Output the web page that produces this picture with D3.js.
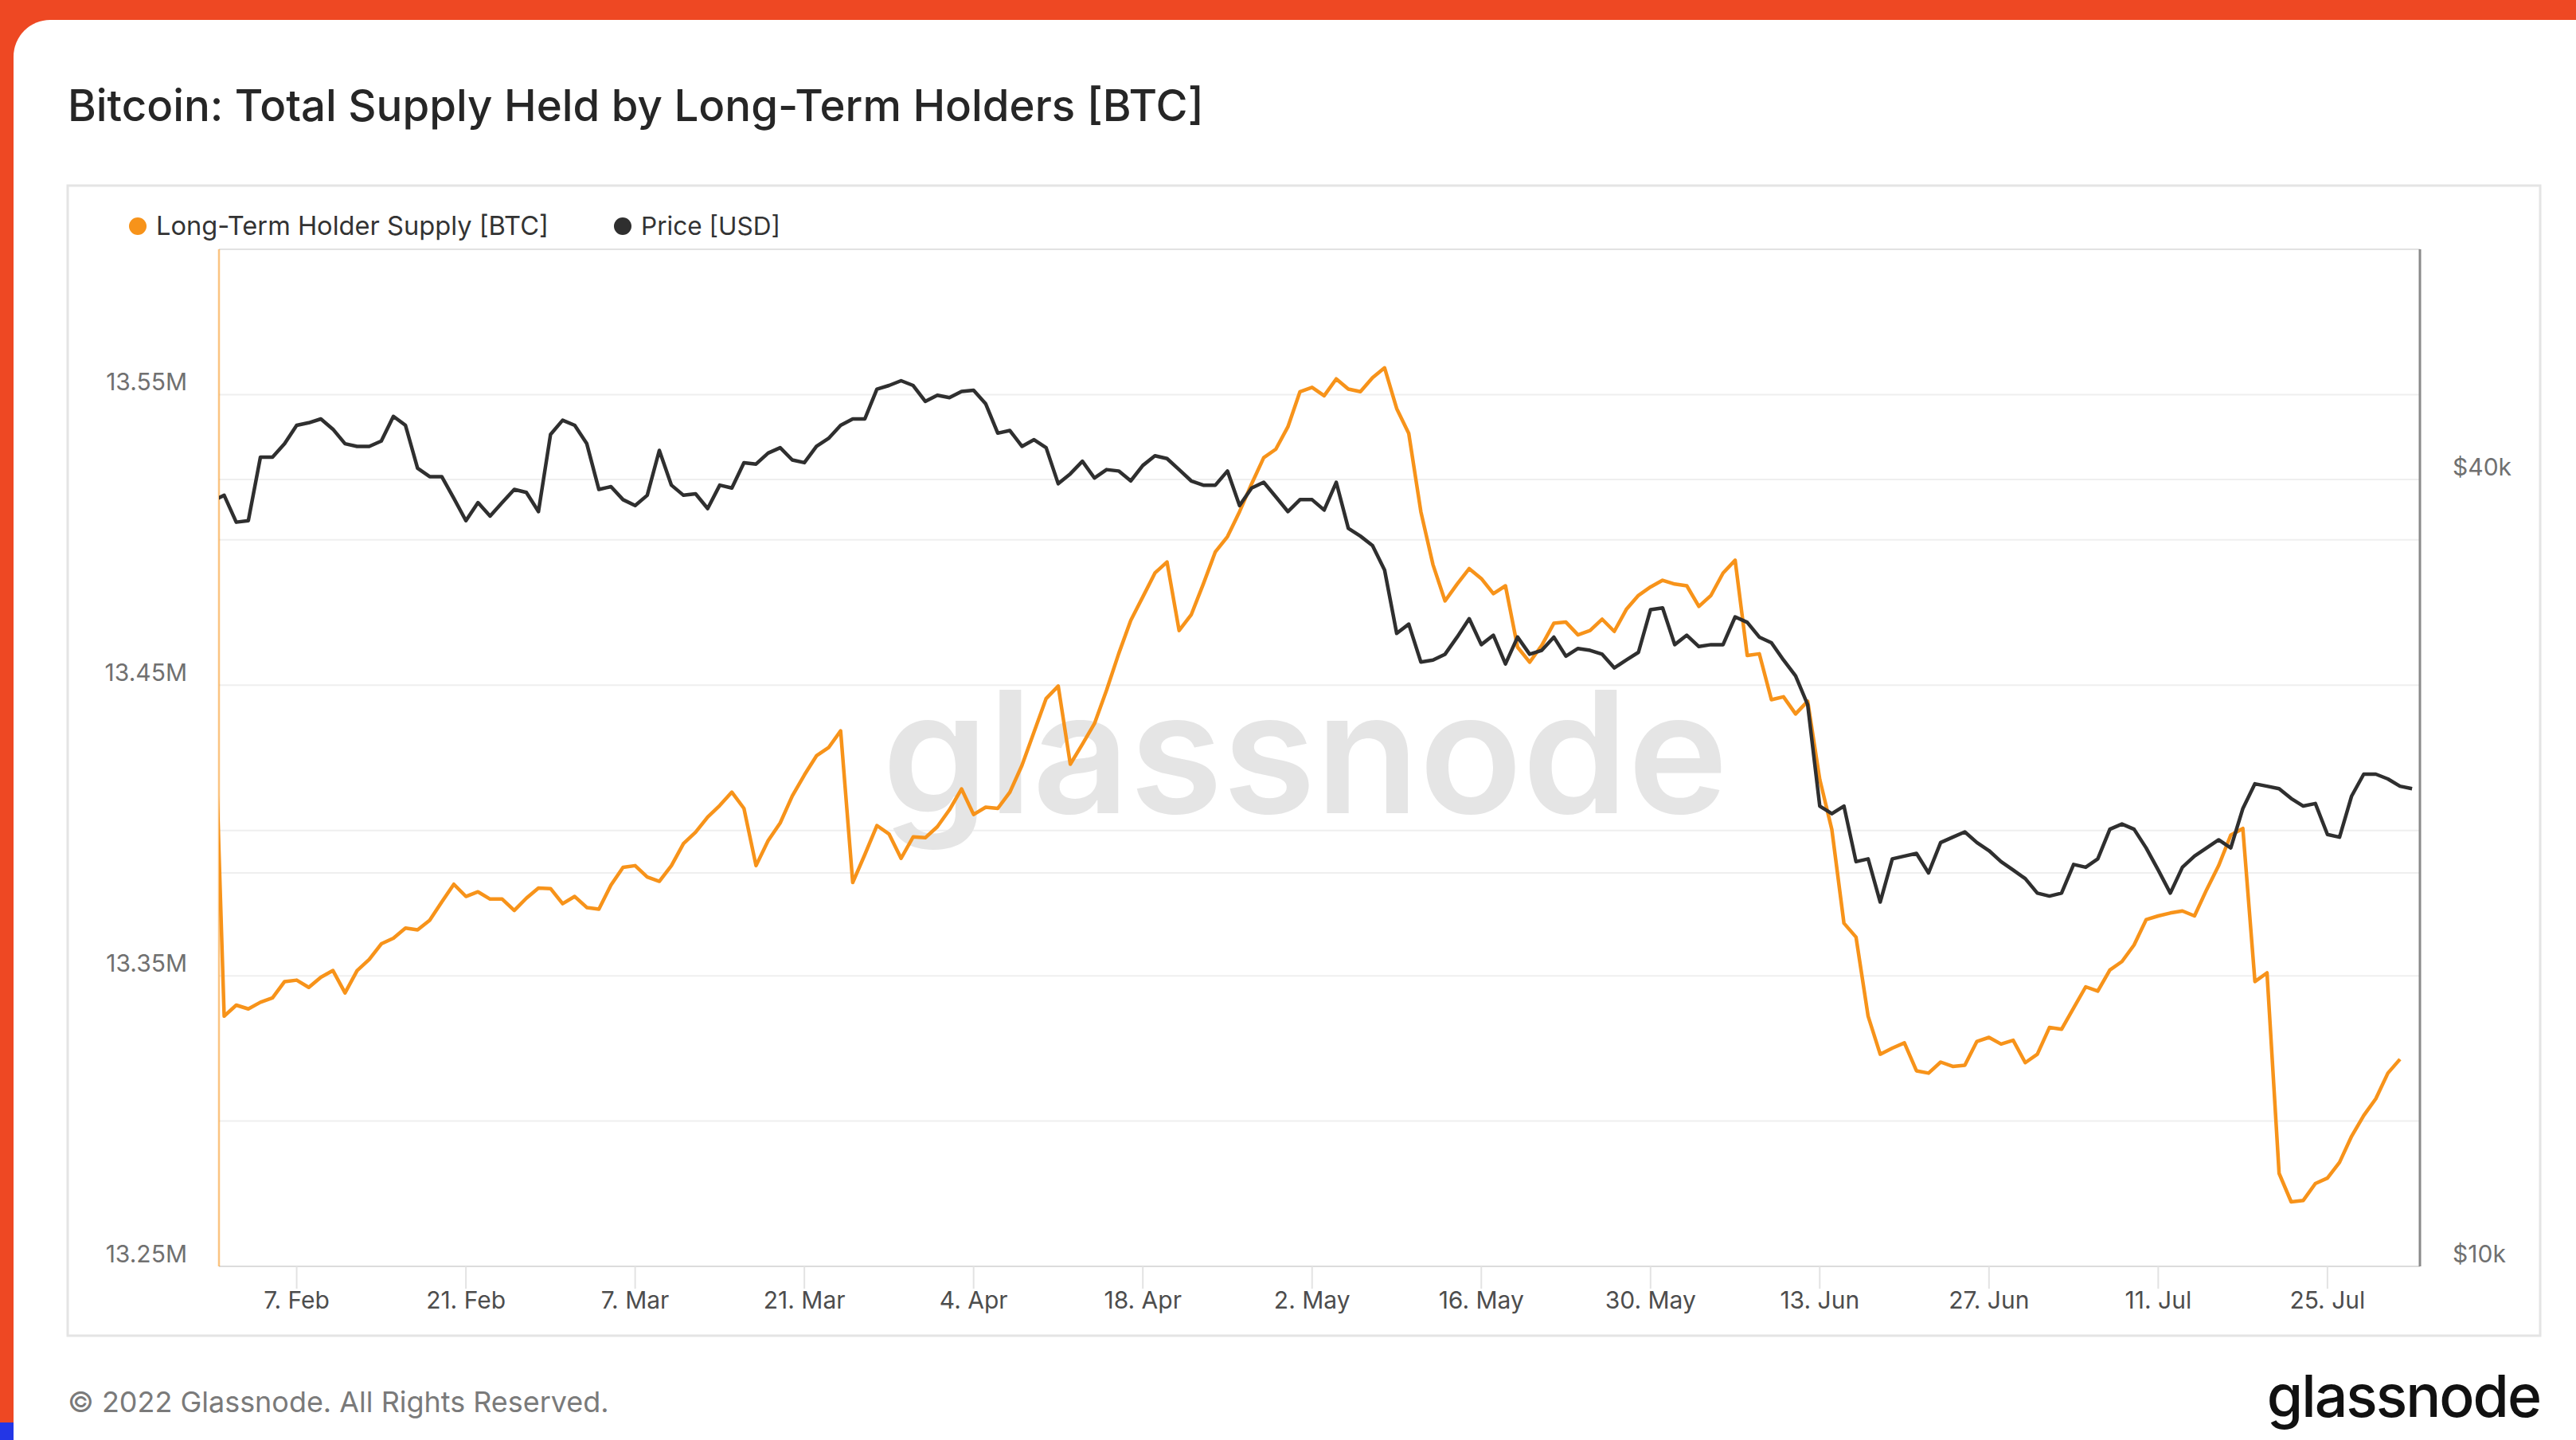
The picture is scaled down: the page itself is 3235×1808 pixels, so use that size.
<!DOCTYPE html>
<html><head><meta charset="utf-8">
<script src="https://cdn.jsdelivr.net/npm/d3@7"></script>
<style>html,body{margin:0;padding:0;background:#EE4823;overflow:hidden}svg{display:block}</style>
</head><body><svg id="c" width="3235" height="1808"></svg>
<script>
// ---------------- data ----------------
const titleText = "Bitcoin: Total Supply Held by Long-Term Holders [BTC]";
const seriesNames = ["Long-Term Holder Supply [BTC]", "Price [USD]"];
const startDate = "2022-01-31"; // first daily point (partly outside the plot)
// Long-Term Holder Supply, millions BTC, daily from 2022-01-31 to 2022-07-31
const supplyM = [13.468,
13.3361,13.3399,13.3386,13.3409,13.3424,13.3480,13.3485,13.3460,13.3495,13.3518,
13.3441,13.3518,13.3556,13.3610,13.3629,13.3664,13.3658,13.3691,13.3754,13.3815,
13.3773,13.3789,13.3764,13.3764,13.3725,13.3767,13.3802,13.3800,13.3748,13.3773,
13.3735,13.3729,13.3812,13.3873,13.3879,13.3840,13.3825,13.3879,13.3955,13.3994,
13.4046,13.4086,13.4132,13.4076,13.3879,13.3965,13.4026,13.4119,13.4191,13.4257,
13.4285,13.4343,13.3821,13.3917,13.4017,13.3988,13.3904,13.3978,13.3975,13.4013,
13.4071,13.4143,13.4055,13.4080,13.4076,13.4132,13.4224,13.4339,13.4454,13.4497,
13.4228,13.4297,13.4368,13.4483,13.4608,13.4723,13.4804,13.4886,13.4924,13.4688,
13.4742,13.4848,13.4959,13.5011,13.5097,13.5193,13.5283,13.5312,13.5389,13.5510,
13.5525,13.5496,13.5554,13.5519,13.5510,13.5558,13.5592,13.5452,13.5366,13.5097,
13.4915,13.4790,13.4848,13.4901,13.4867,13.4815,13.4842,13.4631,13.4579,13.4637,
13.4713,13.4717,13.4673,13.4688,13.4727,13.4685,13.4761,13.4809,13.4838,13.4861,
13.4848,13.4842,13.4771,13.4809,13.4886,13.4930,13.4602,13.4608,13.4450,13.4460,
13.4401,13.4445,13.4176,13.4003,13.3681,13.3633,13.3361,13.3230,13.3251,13.3269,
13.3173,13.3165,13.3203,13.3188,13.3192,13.3274,13.3288,13.3265,13.3278,13.3201,
13.3230,13.3322,13.3316,13.3389,13.3462,13.3447,13.3520,13.3549,13.3606,13.3693,
13.3706,13.3716,13.3723,13.3706,13.3796,13.3879,13.3984,13.4007,13.3480,13.3510,
13.2820,13.2722,13.2727,13.2785,13.2804,13.2858,13.2948,13.3019,13.3077,13.3165,
13.3213];
// Price, thousands USD, daily from 2022-01-31 to 2022-08-01
const priceK = [38.5,
38.9,37.1,37.2,41.6,41.6,42.6,44.0,44.2,44.5,43.7,
42.6,42.4,42.4,42.8,44.7,44.0,40.8,40.2,40.2,38.7,
37.2,38.4,37.5,38.4,39.3,39.1,37.8,43.3,44.4,44.0,
42.6,39.3,39.5,38.6,38.2,38.9,42.1,39.6,38.9,39.0,
38.0,39.6,39.4,41.2,41.1,41.9,42.3,41.4,41.2,42.4,
43.0,44.0,44.5,44.5,46.9,47.2,47.6,47.2,45.9,46.4,
46.2,46.7,46.8,45.7,43.4,43.6,42.4,42.9,42.3,39.7,
40.4,41.3,40.1,40.7,40.6,39.9,41.0,41.7,41.5,40.7,
39.9,39.6,39.6,40.6,38.2,39.4,39.8,38.8,37.8,38.6,
38.6,37.9,39.8,36.7,36.2,35.6,34.1,30.5,31.0,29.0,
29.1,29.4,30.3,31.3,29.9,30.4,28.9,30.3,29.4,29.6,
30.3,29.3,29.7,29.6,29.4,28.7,29.1,29.5,31.8,31.9,
29.9,30.4,29.8,29.9,29.9,31.4,31.1,30.3,30.0,29.1,
28.3,26.9,22.5,22.2,22.5,20.4,20.5,19.0,20.5,20.6,
20.7,20.0,21.1,21.3,21.5,21.1,20.8,20.4,20.1,19.8,
19.3,19.2,19.3,20.3,20.2,20.5,21.6,21.8,21.6,20.9,
20.1,19.3,20.2,20.6,20.9,21.2,20.9,22.4,23.4,23.3,
23.2,22.8,22.5,22.6,21.4,21.3,22.9,23.8,23.8,23.6,
23.3,23.2];
const xTickDates = ["2022-02-07","2022-02-21","2022-03-07","2022-03-21","2022-04-04","2022-04-18","2022-05-02","2022-05-16","2022-05-30","2022-06-13","2022-06-27","2022-07-11","2022-07-25"];
const xDomain = ["2022-01-31T13:43:00Z", "2022-08-01T15:36:00Z"];
const leftDomain = [13.25, 13.60];
const leftLabelTicks = [13.25, 13.35, 13.45, 13.55];
const leftGridTicks = [13.30, 13.35, 13.40, 13.45, 13.50, 13.55, 13.60];
const rightDomain = [10000, 60000];
const rightLabelTicks = [10000, 40000];
const rightGridTicks = [20000, 40000];
const footerText = "\u00A9 2022 Glassnode. All Rights Reserved.";
const logoText = "glassnode";

// ---------------- layout ----------------
const W = 3235, H = 1808;
const P = {l: 275, r: 3039, t: 313, b: 1590};
const FONT = "Inter, 'Open Sans', sans-serif";
const ORANGE = "#F7931A", DARK = "#2f2f2f";

const svg = d3.select("#c");
const parseDay = d3.utcParse("%Y-%m-%d");
const t0 = parseDay(startDate);
const supply = supplyM.map((v, i) => ({date: d3.utcDay.offset(t0, i), v: v * 1e6}));
const price = priceK.map((v, i) => ({date: d3.utcDay.offset(t0, i), v: v * 1e3}));

const x = d3.scaleUtc().domain(xDomain.map(s => new Date(s))).range([P.l, P.r]);
const yL = d3.scaleLinear().domain(leftDomain.map(v => v * 1e6)).range([P.b, P.t]);
const yR = d3.scaleLog().domain(rightDomain).range([P.b, P.t]);

function fit(sel, target) {
  const n = sel.node();
  const w = n.getComputedTextLength();
  const fs = parseFloat(sel.attr("font-size"));
  if (w > 0) sel.attr("font-size", fs * target / w);
  return sel;
}

// background
svg.append("rect").attr("x", 0).attr("y", 0).attr("width", W).attr("height", H).attr("fill", "#EE4823");
svg.append("rect").attr("x", 0).attr("y", 1786).attr("width", W).attr("height", H - 1786).attr("fill", "#2336E6");
svg.append("rect").attr("x", 17).attr("y", 25).attr("width", 3270).attr("height", 1830).attr("rx", 46).attr("fill", "#fff");

// chart box
svg.append("rect").attr("x", 85).attr("y", 233).attr("width", 3105).attr("height", 1444)
  .attr("fill", "#fff").attr("stroke", "#e4e4e4").attr("stroke-width", 3);

// title
const title = svg.append("text").attr("x", 85).attr("y", 152).attr("font-family", FONT)
  .attr("font-size", 52).attr("font-weight", 500).attr("fill", "#262626").text(titleText);
fit(title, 1427);

// legend
const legend = [
  {name: seriesNames[0], color: ORANGE, cx: 173, tx: 196, w: 493},
  {name: seriesNames[1], color: DARK, cx: 782, tx: 805, w: 175}
];
legend.forEach(l => {
  svg.append("circle").attr("cx", l.cx).attr("cy", 284).attr("r", 11).attr("fill", l.color);
  const t = svg.append("text").attr("x", l.tx).attr("y", 295).attr("font-family", FONT)
    .attr("font-size", 32).attr("fill", "#333").text(l.name);
  fit(t, l.w);
});

// gridlines
const grid = svg.append("g");
grid.selectAll("line.gl").data(leftGridTicks).join("line")
  .attr("x1", P.l).attr("x2", P.r).attr("y1", d => yL(d * 1e6)).attr("y2", d => yL(d * 1e6))
  .attr("stroke", d => d === 13.60 ? "#e2e2e2" : "#efefef").attr("stroke-width", 2);
grid.selectAll("line.gr").data(rightGridTicks).join("line")
  .attr("x1", P.l).attr("x2", P.r).attr("y1", d => yR(d)).attr("y2", d => yR(d))
  .attr("stroke", "#efefef").attr("stroke-width", 2);

// watermark
const wm = svg.append("text").attr("x", (1108 + 2170) / 2).attr("y", 1021).attr("text-anchor", "middle")
  .attr("font-family", FONT).attr("font-size", 230).attr("font-weight", 600)
  .attr("fill", "#e5e5e5").text(logoText);
fit(wm, 1062);

// x axis baseline + ticks
svg.append("line").attr("x1", P.l).attr("x2", P.r).attr("y1", P.b).attr("y2", P.b)
  .attr("stroke", "#dcdcdc").attr("stroke-width", 2);
const xt = xTickDates.map(parseDay);
svg.append("g").selectAll("line").data(xt).join("line")
  .attr("x1", d => x(d)).attr("x2", d => x(d)).attr("y1", P.b).attr("y2", P.b + 28)
  .attr("stroke", "#e3e3e3").attr("stroke-width", 2);
const fmt = d3.utcFormat("%-d. %b");
svg.append("g").selectAll("text").data(xt).join("text")
  .attr("x", d => x(d)).attr("y", 1643).attr("text-anchor", "middle")
  .attr("font-family", FONT).attr("font-size", 30).attr("fill", "#4d4d4d").text(d => fmt(d));

// axis lines
svg.append("line").attr("x1", P.l).attr("x2", P.l).attr("y1", P.t).attr("y2", P.b)
  .attr("stroke", ORANGE).attr("stroke-opacity", 0.55).attr("stroke-width", 2.5);
svg.append("line").attr("x1", P.r).attr("x2", P.r).attr("y1", P.t).attr("y2", P.b)
  .attr("stroke", "#8a8a8a").attr("stroke-width", 3);

// y labels
svg.append("g").selectAll("text").data(leftLabelTicks).join("text")
  .attr("x", 235).attr("y", d => yL(d * 1e6) - 5).attr("text-anchor", "end")
  .attr("font-family", FONT).attr("font-size", 30).attr("fill", "#707070")
  .text(d => d.toFixed(2) + "M");
svg.append("g").selectAll("text").data(rightLabelTicks).join("text")
  .attr("x", 3080).attr("y", d => yR(d) - 5).attr("text-anchor", "start")
  .attr("font-family", FONT).attr("font-size", 30).attr("fill", "#707070")
  .text(d => "$" + (d / 1000) + "k");

// lines
svg.append("defs").append("clipPath").attr("id", "plotclip").append("rect")
  .attr("x", P.l).attr("y", P.t - 10).attr("width", P.r - P.l).attr("height", P.b - P.t + 20);
const lines = svg.append("g").attr("clip-path", "url(#plotclip)");
lines.append("path").datum(supply).attr("fill", "none").attr("stroke", ORANGE)
  .attr("stroke-width", 4.5).attr("stroke-linejoin", "round")
  .attr("d", d3.line().x(d => x(d.date)).y(d => yL(d.v)));
lines.append("path").datum(price).attr("fill", "none").attr("stroke", DARK)
  .attr("stroke-width", 4.5).attr("stroke-linejoin", "round")
  .attr("d", d3.line().x(d => x(d.date)).y(d => yR(d.v)));

// footer
const foot = svg.append("text").attr("x", 85).attr("y", 1773).attr("font-family", FONT)
  .attr("font-size", 34).attr("fill", "#7a7a7a").text(footerText);
fit(foot, 680);
const logo = svg.append("text").attr("x", 3190).attr("y", 1779).attr("text-anchor", "end")
  .attr("font-family", FONT).attr("font-size", 72).attr("font-weight", 500)
  .attr("letter-spacing", -2).attr("fill", "#111").text(logoText);
fit(logo, 343);
</script></body></html>
